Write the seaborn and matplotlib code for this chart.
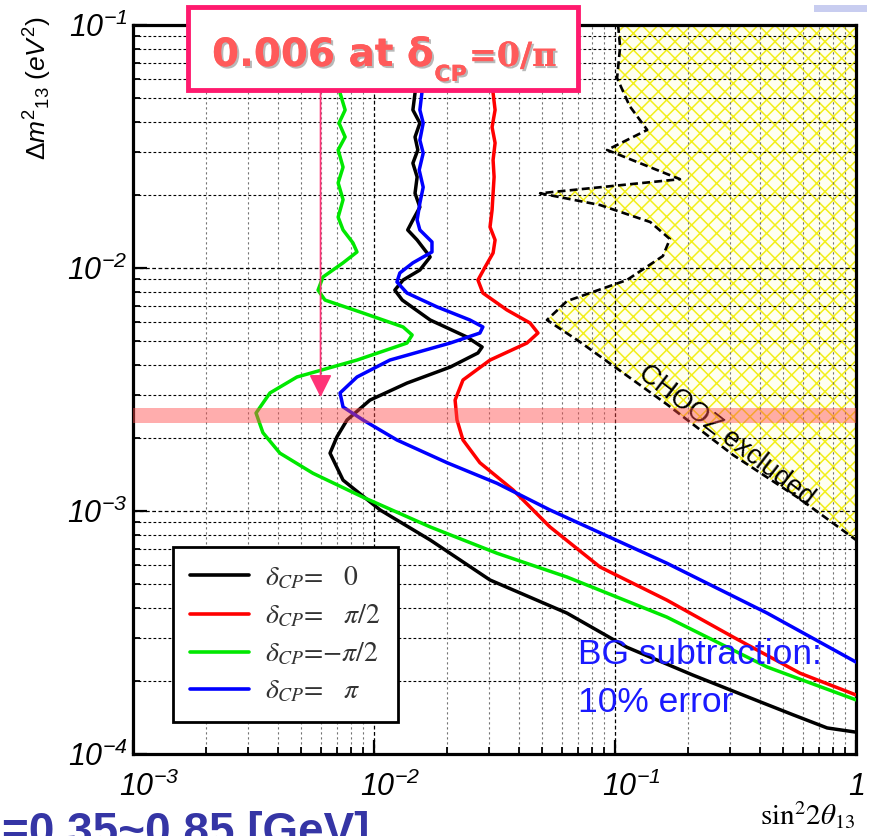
import matplotlib
matplotlib.use("Agg")
import matplotlib.pyplot as plt
import matplotlib.patches as mpatches
import matplotlib.patheffects as pe
from matplotlib.transforms import ScaledTranslation
from matplotlib.ticker import FixedLocator, FixedFormatter, LogLocator, NullFormatter
import seaborn as sns

# ---- sensitivity contours: sin^2(2θ13) reach versus Δm²13 (eV²) ----
dm2_d0 = [0.1, 0.0525, 0.0447, 0.0395, 0.0346, 0.0306, 0.0270, 0.0237, 0.0203, 0.0178,
          0.01576, 0.01434, 0.01304, 0.0111, 0.00981, 0.00892, 0.00811, 0.00738, 0.00611,
          0.0052, 0.00473, 0.00447, 0.00391, 0.00336, 0.00286, 0.00237, 0.00202, 0.00173,
          0.00134, 0.00101, 7.6e-4, 5.2e-4, 3.8e-4, 2.75e-4, 2.11e-4, 1.64e-4, 1.45e-4,
          1.28e-4, 1.23e-4]
s2t_d0 = [0.0148, 0.0148, 0.0145, 0.0155, 0.0148, 0.0152, 0.0145, 0.0151, 0.0148, 0.0155,
          0.0145, 0.0138, 0.0151, 0.0171, 0.0155, 0.0132, 0.0122, 0.0131, 0.0171, 0.0243,
          0.0281, 0.0270, 0.0207, 0.0137, 0.00962, 0.00773, 0.00702, 0.00657, 0.00744,
          0.0106, 0.0171, 0.0303, 0.0632, 0.112, 0.211, 0.400, 0.548, 0.759, 1.0]

dm2_pi2 = [0.1, 0.0525, 0.0447, 0.0380, 0.0327, 0.0278, 0.0237, 0.0203, 0.01733, 0.01475,
           0.01304, 0.01153, 0.01009, 0.00892, 0.00789, 0.00672, 0.00594, 0.0054, 0.00491,
           0.00418, 0.00346, 0.00286, 0.00237, 0.00196, 0.00158, 0.00122, 8.6e-4, 5.88e-4,
           4.3e-4, 3.03e-4, 2.15e-4, 1.75e-4]
s2t_pi2 = [0.0312, 0.0312, 0.0318, 0.0309, 0.0318, 0.0312, 0.0315, 0.0312, 0.0309, 0.0303,
           0.0318, 0.0312, 0.0289, 0.0270, 0.0283, 0.0356, 0.0444, 0.0479, 0.0431, 0.0303,
           0.0234, 0.0217, 0.0221, 0.0234, 0.0275, 0.0378, 0.0537, 0.0867, 0.164, 0.309,
           0.586, 1.0]

dm2_mpi2 = [0.1, 0.0525, 0.0447, 0.0395, 0.0346, 0.0306, 0.0260, 0.0224, 0.0191, 0.0162,
            0.01434, 0.01268, 0.01164, 0.0105, 0.00918, 0.00811, 0.00738, 0.00653, 0.00572,
            0.0053, 0.00491, 0.00418, 0.00356, 0.00306, 0.00253, 0.0021, 0.00173, 0.00143,
            0.00114, 8.6e-4, 6.7e-4, 5.35e-4, 3.66e-4, 2.28e-4, 1.67e-4]
s2t_mpi2 = [0.00723, 0.00723, 0.00759, 0.00716, 0.00759, 0.0071, 0.00744, 0.0071, 0.00744,
            0.0071, 0.00744, 0.00818, 0.0085, 0.00744, 0.00614, 0.00586, 0.00626, 0.0090,
            0.0132, 0.0144, 0.0137, 0.0085, 0.00479, 0.0037, 0.00324, 0.00346, 0.00407,
            0.00558, 0.0090, 0.0171, 0.0324, 0.0632, 0.164, 0.428, 1.0]

dm2_pi = [0.1, 0.0525, 0.0447, 0.0395, 0.0336, 0.0297, 0.0253, 0.0215, 0.0185, 0.01576,
          0.01434, 0.0128, 0.01164, 0.0105, 0.00954, 0.00876, 0.00789, 0.00691, 0.00611,
          0.00572, 0.0054, 0.00491, 0.00418, 0.00356, 0.00306, 0.00268, 0.00237, 0.00196,
          0.00158, 0.0013, 0.00101, 6.1e-4, 3.8e-4, 2.39e-4]
s2t_pi = [0.0158, 0.0158, 0.0155, 0.0160, 0.0155, 0.0160, 0.0154, 0.0160, 0.0155, 0.0151,
          0.0155, 0.0174, 0.0174, 0.0145, 0.0128, 0.01245, 0.0137, 0.0183, 0.0250, 0.0283,
          0.0275, 0.0207, 0.01164, 0.0085, 0.00723, 0.00744, 0.0090, 0.01245, 0.0201, 0.0324,
          0.0537, 0.164, 0.428, 1.0]

# ---- CHOOZ excluded region (boundary, filled to sin²2θ13 = 1) ----
chooz_dm2 = [0.1, 0.0812, 0.0605, 0.0464, 0.0370, 0.0306, 0.0232, 0.0203, 0.01816, 0.01546,
             0.01316, 0.0112, 0.00892, 0.00731, 0.00611, 0.00496, 0.00275, 0.0017, 0.00112,
             7.6e-4]
chooz_s2t = [0.103, 0.105, 0.102, 0.115, 0.136, 0.0927, 0.186, 0.0489, 0.0867, 0.140, 0.169,
             0.158, 0.112, 0.0632, 0.0522, 0.0716, 0.164, 0.309, 0.586, 1.0]

atm_band = (2.3e-3, 2.65e-3)          # atmospheric Δm² range
reach_value = 0.006                   # sin²2θ13 reach at δCP = 0/π
reach_arrow_dm2 = (0.053, 2.94e-3)

curve_labels = [r"$\delta_{CP}$=   $\mathit{0}$",
                r"$\delta_{CP}$=   $\pi$/2",
                r"$\delta_{CP}$=$-\pi$/2",
                r"$\delta_{CP}$=   $\pi$"]
curve_colors = ["#000000", "#ff0000", "#00e800", "#0000ff"]
curves = [(s2t_d0, dm2_d0), (s2t_pi2, dm2_pi2), (s2t_mpi2, dm2_mpi2), (s2t_pi, dm2_pi)]

x_ticks = [1e-3, 1e-2, 1e-1, 1.0]
x_tick_labels = [r"$\mathsf{10^{-3}}$", r"$\mathsf{10^{-2}}$", r"$\mathsf{10^{-1}}$", r"$\mathsf{1}$"]
y_ticks = [1e-4, 1e-3, 1e-2, 1e-1]
y_tick_labels = [r"$\mathsf{10^{-4}}$", r"$\mathsf{10^{-3}}$", r"$\mathsf{10^{-2}}$", r"$\mathsf{10^{-1}}$"]

# ---- style ----
sns.set_style("white")
plt.rcParams["font.family"] = ["Liberation Sans", "DejaVu Sans"]
plt.rcParams["mathtext.fontset"] = "custom"
plt.rcParams["mathtext.rm"] = "Liberation Sans"
plt.rcParams["mathtext.it"] = "Liberation Sans:italic"
plt.rcParams["mathtext.sf"] = "Liberation Sans:italic"
plt.rcParams["mathtext.bf"] = "Liberation Sans:bold"
plt.rcParams["hatch.linewidth"] = 1.1

W, H = 869, 836
fig = plt.figure(figsize=(W / 100, H / 100), dpi=100)
fig.patch.set_facecolor("white")


def fx(px):
    return px / W


def fy(py):
    return 1 - py / H


ax = fig.add_axes([fx(133), fy(754), (856 - 133) / W, (754 - 25) / H])
ax.set_xscale("log")
ax.set_yscale("log")
ax.set_xlim(1e-3, 1.0)
ax.set_ylim(1e-4, 1e-1)
ax.set_axisbelow("line")

# ticks and grid
ax.xaxis.set_major_locator(FixedLocator(x_ticks))
ax.xaxis.set_major_formatter(FixedFormatter(x_tick_labels))
ax.yaxis.set_major_locator(FixedLocator(y_ticks))
ax.yaxis.set_major_formatter(FixedFormatter(y_tick_labels))
ax.xaxis.set_minor_locator(LogLocator(base=10, subs=range(2, 10)))
ax.yaxis.set_minor_locator(LogLocator(base=10, subs=range(2, 10)))
ax.xaxis.set_minor_formatter(NullFormatter())
ax.yaxis.set_minor_formatter(NullFormatter())
ax.grid(which="major", axis="both", color="black", linestyle=(0, (3, 2)), linewidth=0.9)
ax.grid(which="minor", axis="y", color="black", linestyle=(0, (2.5, 2)), linewidth=0.8)
ax.grid(which="minor", axis="x", color="0.45", linestyle=(0, (2, 2.5)), linewidth=0.8)

# CHOOZ excluded region
ax.fill_betweenx(chooz_dm2, chooz_s2t, 1.0, facecolor="#fffff0", edgecolor="#f2ef1a",
                 hatch="xx", linewidth=0, zorder=1)
sns.lineplot(x=chooz_s2t, y=chooz_dm2, sort=False, estimator=None, ax=ax, color="black",
             linewidth=1.9, linestyle=(0, (3, 1.6)), zorder=2)
ax.text(0.29, 2.05e-3, "CHOOZ excluded", rotation=-37.5, rotation_mode="anchor",
        ha="center", va="center", fontsize=19.5, color="black", zorder=3)

# sensitivity curves
for (xs, ys), lab, col in zip(curves, curve_labels, curve_colors):
    sns.lineplot(x=xs, y=ys, sort=False, estimator=None, ax=ax, color=col,
                 linewidth=2.5, label=lab, zorder=3, solid_joinstyle="round",
                 solid_capstyle="round")

# atmospheric Δm² band
ax.axhspan(atm_band[0], atm_band[1], color="#ff4a4a", alpha=0.45, linewidth=0, zorder=4)

# arrow from the callout down to the reach value
ax.annotate("", xy=(reach_value, reach_arrow_dm2[1]), xytext=(reach_value, reach_arrow_dm2[0]),
            arrowprops=dict(arrowstyle="-|>,head_length=0.7,head_width=0.35", color="#ff3377",
                            lw=1.2, shrinkA=0, shrinkB=0, mutation_scale=20), zorder=5)

# axes frame and ticks
for side in ["left", "right", "top", "bottom"]:
    ax.spines[side].set_color("black")
    ax.spines[side].set_linewidth(2.3)
ax.tick_params(which="major", direction="in", length=10, width=1.6, colors="black",
               labelsize=22, top=False, right=False, left=True, bottom=True)
ax.tick_params(which="minor", direction="in", length=5, width=1.3, colors="black",
               top=False, right=False, left=True, bottom=True)
ax.tick_params(axis="x", which="major", pad=13)
ax.tick_params(axis="y", which="major", pad=4)
ax.set_xlabel("")
ax.set_ylabel("")
# the power-of-ten labels sit with their base just right of the tick
for lab in ax.get_xticklabels()[:3]:
    lab.set_transform(lab.get_transform() + ScaledTranslation(0.16, 0, fig.dpi_scale_trans))

# legend
leg = ax.legend(loc="lower left", bbox_to_anchor=(0.0553, 0.0439), borderaxespad=0,
                frameon=True, fancybox=False, framealpha=1, edgecolor="black",
                prop={"family": "STIXGeneral", "size": 20}, handlelength=2.1,
                handletextpad=0.6, labelspacing=0.42, borderpad=0.62)
leg.get_frame().set_linewidth(2.0)
for t in leg.get_texts():
    t.set_math_fontfamily("stix")
    t.set_color("#333333")
for ln in leg.get_lines():
    ln.set_linewidth(2.6)

# axis titles
fig.text(fx(38), fy(88), r"$\mathit{\Delta m^{2}{}_{13}\ (eV^{2})}$", rotation=90,
         ha="center", va="center", fontsize=19, color="black")
fig.text(fx(808), fy(815), r"$\mathrm{sin}^{2}2\theta_{\mathit{13}}$", math_fontfamily="stix",
         ha="center", va="center", fontsize=21, color="black")

# background-subtraction note
fig.text(fx(578), fy(664), "BG subtraction:", color="#1a1aff", fontsize=25.5, va="baseline")
fig.text(fx(578), fy(712), "10% error", color="#1a1aff", fontsize=25.5, va="baseline")

# callout box
fig.add_artist(mpatches.Rectangle((fx(188), fy(90)), (578 - 188) / W, (90 - 7) / H,
                                  transform=fig.transFigure, facecolor="white",
                                  edgecolor="#ff1a6e", linewidth=3.5, zorder=6))
shadow = [pe.withSimplePatchShadow(offset=(1.5, -1.5), shadow_rgbFace="0.45", alpha=0.5),
          pe.Normal()]
call_color = "#ff5a5a"
t1 = fig.text(fx(212), fy(66), "0.006 at δ", fontsize=28, weight="bold", color=call_color,
              family="DejaVu Sans", va="baseline", zorder=7, path_effects=shadow)
fig.canvas.draw()
bb1 = t1.get_window_extent()
t2 = fig.text((bb1.x1 + 1) / W, fy(81), "CP", fontsize=16, weight="bold", color=call_color,
              family="DejaVu Sans", va="baseline", zorder=7, path_effects=shadow)
fig.canvas.draw()
bb2 = t2.get_window_extent()
fig.text((bb2.x1 + 2) / W, fy(66), "=0/π", fontsize=24, weight="bold", color=call_color,
         family="DejaVu Serif", va="baseline", zorder=7, path_effects=shadow)

# small header mark and footer line
fig.add_artist(mpatches.Rectangle((fx(814), fy(12)), 53 / W, 7 / H, transform=fig.transFigure,
                                  facecolor="#c8cdf0", edgecolor="none", zorder=6))
fig.text(fx(2), fy(845), "=0.35~0.85 [GeV]", color="#3535a5", fontsize=33, weight="bold",
         va="baseline")

fig.savefig("out.png", dpi=100, facecolor="white")
